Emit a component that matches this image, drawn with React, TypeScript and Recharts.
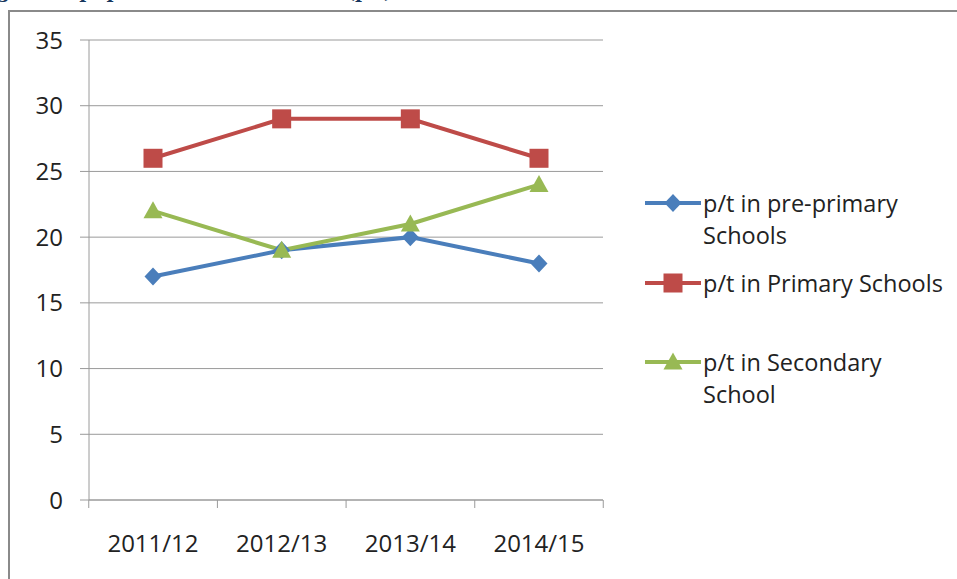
import { CartesianGrid, Legend, Line, LineChart, XAxis, YAxis } from "recharts";

const years = ["2011/12", "2012/13", "2013/14", "2014/15"];
const prePrimary = [17, 19, 20, 18];
const primary = [26, 29, 29, 26];
const secondary = [22, 19, 21, 24];
const yTicks = [0, 5, 10, 15, 20, 25, 30, 35];

const seriesKeys = ["pre", "primary", "secondary"];
const seriesNames = [
  "p/t in pre-primary Schools",
  "p/t in Primary Schools",
  "p/t in Secondary School",
];
const legendLines = [
  ["p/t in pre-primary", "Schools"],
  ["p/t in Primary Schools"],
  ["p/t in Secondary", "School"],
];
const seriesColors = ["#4a7ebb", "#be4b48", "#98b954"];
const seriesShapes = ["diamond", "square", "triangle"];

const data = years.map((year, i) => ({
  year,
  pre: prePrimary[i],
  primary: primary[i],
  secondary: secondary[i],
}));

const FONT = "'Open Sans', sans-serif";
const GRID = "#9a9a9a";

const Marker = ({ cx, cy, shape, color }: any) => {
  if (cx == null || cy == null) return null;
  if (shape === "diamond") {
    return (
      <path
        d={`M${cx},${cy - 9}L${cx + 8.5},${cy}L${cx},${cy + 9}L${cx - 8.5},${cy}Z`}
        fill={color}
      />
    );
  }
  if (shape === "square") {
    return <rect x={cx - 9.5} y={cy - 9.5} width={19} height={19} fill={color} />;
  }
  return (
    <path
      d={`M${cx},${cy - 9.5}L${cx + 9.5},${cy + 7.5}L${cx - 9.5},${cy + 7.5}Z`}
      fill={color}
    />
  );
};

const XTick = (props: any) => {
  const { x, y, payload, index, width } = props;
  const half = width ? width / years.length / 2 : 64;
  const axisY = y - 35;
  return (
    <g>
      <line x1={x - half} x2={x - half} y1={axisY} y2={axisY + 8} stroke={GRID} />
      {index === years.length - 1 && (
        <line x1={x + half} x2={x + half} y1={axisY} y2={axisY + 8} stroke={GRID} />
      )}
      <text
        x={x}
        y={y}
        dy="0.71em"
        textAnchor="middle"
        fill="#222"
        fontSize={24}
        fontFamily={FONT}
      >
        {payload.value}
      </text>
    </g>
  );
};

// legend drawn from the series arrays so the order stays as in the chart
const LegendBox = () => {
  const rows = [21, 101, 180];
  return (
    <div style={{ position: "relative", width: 330, height: 240 }}>
      {seriesNames.map((name, i) => (
        <div key={name}>
          <svg
            width={60}
            height={24}
            style={{ position: "absolute", left: 8, top: rows[i] - 12 }}
          >
            <line x1={2} x2={58} y1={12} y2={12} stroke={seriesColors[i]} strokeWidth={4} />
            <Marker cx={30} cy={12} shape={seriesShapes[i]} color={seriesColors[i]} />
          </svg>
          <div
            style={{
              position: "absolute",
              left: 68,
              top: rows[i] - 16,
              fontFamily: FONT,
              fontSize: 23.5,
              lineHeight: "32px",
              color: "#222",
              whiteSpace: "nowrap",
            }}
          >
            {legendLines[i].map((t) => (
              <div key={t}>{t}</div>
            ))}
          </div>
        </div>
      ))}
    </div>
  );
};

const captionStyle = {
  position: "absolute" as const,
  top: -19,
  fontFamily: "'DejaVu Serif', serif",
  fontWeight: 700,
  fontSize: 19,
  lineHeight: "20px",
  color: "#17375e",
  whiteSpace: "nowrap" as const,
};

export default function App() {
  return (
    <div
      style={{
        position: "fixed",
        left: 0,
        top: 0,
        width: 957,
        height: 579,
        overflow: "hidden",
        background: "#ffffff",
      }}
    >
      <span style={{ ...captionStyle, left: -24 }}>Figure 4: pupil teacher ratio</span>
      <span style={{ ...captionStyle, left: 346 }}>(p/t) in schools in the district from</span>
      <span style={{ ...captionStyle, left: 740 }}>2011/12 to</span>
      <span style={{ ...captionStyle, left: 880 }}>2014/15</span>

      <div
        style={{
          position: "absolute",
          left: 8,
          top: 10,
          width: 960,
          height: 580,
          borderLeft: "2px solid #8a8a8a",
          borderTop: "2px solid #8a8a8a",
        }}
      >
        <LineChart
          width={945}
          height={548}
          data={data}
          margin={{ top: 28, right: 352, bottom: 0, left: 0 }}
        >
          <CartesianGrid vertical={false} stroke={GRID} />
          <XAxis
            dataKey="year"
            padding={{ left: 64, right: 64 }}
            height={60}
            axisLine={{ stroke: GRID }}
            tickLine={false}
            tickSize={0}
            tickMargin={35}
            interval={0}
            tick={<XTick />}
          />
          <YAxis
            width={79}
            domain={[0, 35]}
            ticks={yTicks}
            interval={0}
            axisLine={{ stroke: GRID }}
            tickLine={{ stroke: GRID }}
            tickSize={9}
            tickMargin={17}
            tick={{ fill: "#222", fontSize: 24, fontFamily: FONT }}
          />
          <Legend
            layout="horizontal"
            align="center"
            verticalAlign="middle"
            wrapperStyle={{ left: 625, top: 170, width: 330, height: 240 }}
            content={<LegendBox />}
          />
          {seriesKeys.map((key, i) => (
            <Line
              key={key}
              dataKey={key}
              name={seriesNames[i]}
              stroke={seriesColors[i]}
              strokeWidth={4}
              isAnimationActive={false}
              activeDot={false}
              dot={(p: any) => (
                <Marker
                  key={`${key}-${p.index}`}
                  cx={p.cx}
                  cy={p.cy}
                  shape={seriesShapes[i]}
                  color={seriesColors[i]}
                />
              )}
            />
          ))}
        </LineChart>
      </div>
    </div>
  );
}
